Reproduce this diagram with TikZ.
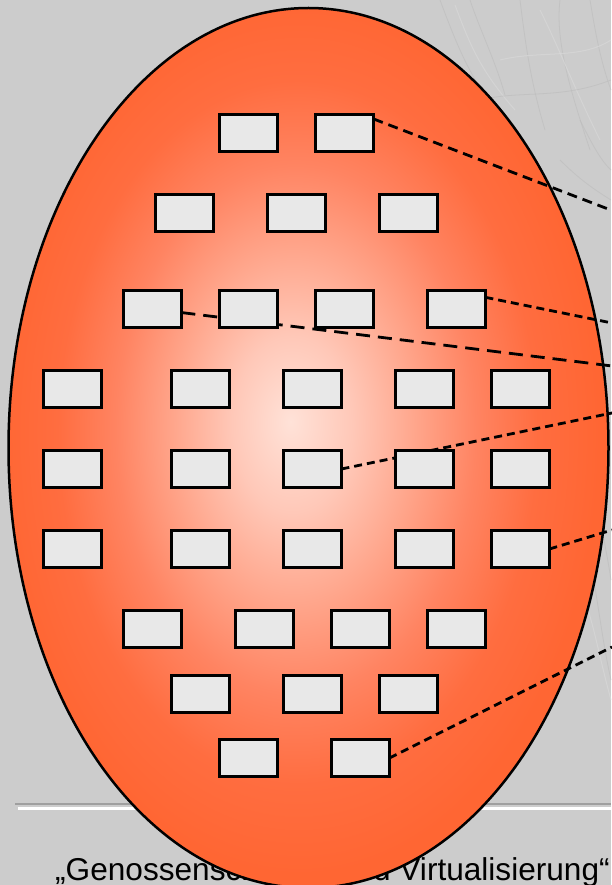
\documentclass[tikz,border=0pt]{standalone}
\usepackage{fontspec}
\setmainfont{Liberation Sans}
\pgfdeclarelayer{bglayer}
\pgfdeclarelayer{linelayer}
\pgfsetlayers{bglayer,linelayer,main}
\definecolor{bggray}{HTML}{CCCCCC}
\definecolor{boxgray}{HTML}{E8E8E8}
\definecolor{eggout}{HTML}{FF6633}
\definecolor{eggd}{HTML}{FF6D40}
\definecolor{eggc}{HTML}{FF8462}
\definecolor{eggb}{HTML}{FFA68C}
\definecolor{egga}{HTML}{FFC8B8}
\definecolor{eggin}{HTML}{FFE2D8}
\definecolor{texdark}{HTML}{BCBCBC}
\definecolor{texlight}{HTML}{D8D8D8}
\pgfdeclareradialshading{eggshade}{\pgfpoint{-1.5bp}{1.5bp}}{color(0bp)=(eggin); color(5bp)=(egga); color(10bp)=(eggb); color(15bp)=(eggc); color(20bp)=(eggd); color(25bp)=(eggout); color(50bp)=(eggout)}
\tikzset{
  bx/.style={draw=black, fill=boxgray, line width=3.2pt, minimum width=57.8pt, minimum height=36.8pt, inner sep=0pt, outer sep=0pt},
  dshort/.style={line width=2.8pt, dash pattern=on 8pt off 5pt},
  dmid/.style={line width=2.8pt, dash pattern=on 10pt off 6pt},
  dlong/.style={line width=2.8pt, dash pattern=on 14pt off 8pt},
  texd/.style={texdark, line width=0.8pt, opacity=0.6},
  texl/.style={texlight, line width=1pt, opacity=0.7}
}
\begin{document}
\begin{tikzpicture}[x=1pt,y=-1pt]
\useasboundingbox (0,0) rectangle (611,885);
\begin{pgfonlayer}{bglayer}
  \fill[bggray] (0,0) rectangle (611,885);
  % faint sketch texture
  \draw[texd] (440,0) .. controls (455,40) and (470,80) .. (500,115);
  \draw[texd] (470,0) .. controls (480,30) and (495,60) .. (505,95);
  \draw[texl] (455,5) .. controls (470,45) and (480,70) .. (515,110);
  \draw[texd] (520,0) .. controls (525,40) and (530,80) .. (545,130);
  \draw[texd] (560,0) .. controls (555,40) and (570,90) .. (590,150);
  \draw[texl] (540,10) .. controls (560,50) and (575,90) .. (600,140);
  \draw[texd] (590,0) .. controls (595,30) and (600,60) .. (611,90);
  \draw[texd] (480,100) .. controls (520,90) and (560,100) .. (611,80);
  \draw[texl] (500,60) .. controls (540,50) and (580,60) .. (611,40);
  \draw[texd] (560,160) .. controls (580,180) and (595,190) .. (611,200);
  \draw[texd] (580,120) .. controls (590,140) and (600,160) .. (611,170);
  \draw[texd] (590,560) .. controls (598,600) and (602,640) .. (611,680);
  \draw[texl] (585,600) .. controls (595,630) and (600,660) .. (611,700);
  \draw[texd] (600,520) .. controls (604,540) and (608,560) .. (611,580);
  \node[anchor=base west, inner sep=0pt, font=\fontsize{31.6}{38}\selectfont] (title) at (55,880) {„Genossenschaften und Virtualisierung“};
  \draw[gray!75, line width=2pt] (15,804) -- (611,804);
  \draw[white, line width=3pt] (18,808.5) -- (611,808.5);
  \path[shade, shading=eggshade, draw=black, line width=2.5pt] (308.5,448) ellipse [x radius=300, y radius=440];
\end{pgfonlayer}
% boxes (centre = top-left + (30.5,20))
\node[bx] (r1c1) at (248.5,133) {};
\node[bx] (r1c2) at (344.5,133) {};
\node[bx] (r2c1) at (184.5,213) {};
\node[bx] (r2c2) at (296.5,213) {};
\node[bx] (r2c3) at (408.5,213) {};
\node[bx] (r3c1) at (152.5,309) {};
\node[bx] (r3c2) at (248.5,309) {};
\node[bx] (r3c3) at (344.5,309) {};
\node[bx] (r3c4) at (456.5,309) {};
\node[bx] (r4c1) at (72.5,389) {};
\node[bx] (r4c2) at (200.5,389) {};
\node[bx] (r4c3) at (312.5,389) {};
\node[bx] (r4c4) at (424.5,389) {};
\node[bx] (r4c5) at (520.5,389) {};
\node[bx] (r5c1) at (72.5,469) {};
\node[bx] (r5c2) at (200.5,469) {};
\node[bx] (r5c3) at (312.5,469) {};
\node[bx] (r5c4) at (424.5,469) {};
\node[bx] (r5c5) at (520.5,469) {};
\node[bx] (r6c1) at (72.5,549) {};
\node[bx] (r6c2) at (200.5,549) {};
\node[bx] (r6c3) at (312.5,549) {};
\node[bx] (r6c4) at (424.5,549) {};
\node[bx] (r6c5) at (520.5,549) {};
\node[bx] (r7c1) at (152.5,629) {};
\node[bx] (r7c2) at (264.5,629) {};
\node[bx] (r7c3) at (360.5,629) {};
\node[bx] (r7c4) at (456.5,629) {};
\node[bx] (r8c1) at (200.5,694) {};
\node[bx] (r8c2) at (312.5,694) {};
\node[bx] (r8c3) at (408.5,694) {};
\node[bx] (r9c1) at (248.5,758) {};
\node[bx] (r9c2) at (360.5,758) {};
% free ends at the right edge
\coordinate (e1) at (612,210.5);
\coordinate (e2) at (612,323);
\coordinate (e3) at (612,366);
\coordinate (e4) at (612,413);
\coordinate (e5) at (612,530);
\coordinate (e6) at (612,647);
\begin{pgfonlayer}{linelayer}
  \draw[dmid] (r1c2.26) -- (e1);
  \draw[dshort] (r3c4.22) -- (e2);
  \draw[dlong] (r3c1.-7) -- (e3);
  \draw[dshort] (r5c3.east) -- (e4);
  \draw[dshort] (r6c5.east) -- (e5);
  \draw[dshort] (r9c2.east) -- (e6);
\end{pgfonlayer}
\end{tikzpicture}
\end{document}
